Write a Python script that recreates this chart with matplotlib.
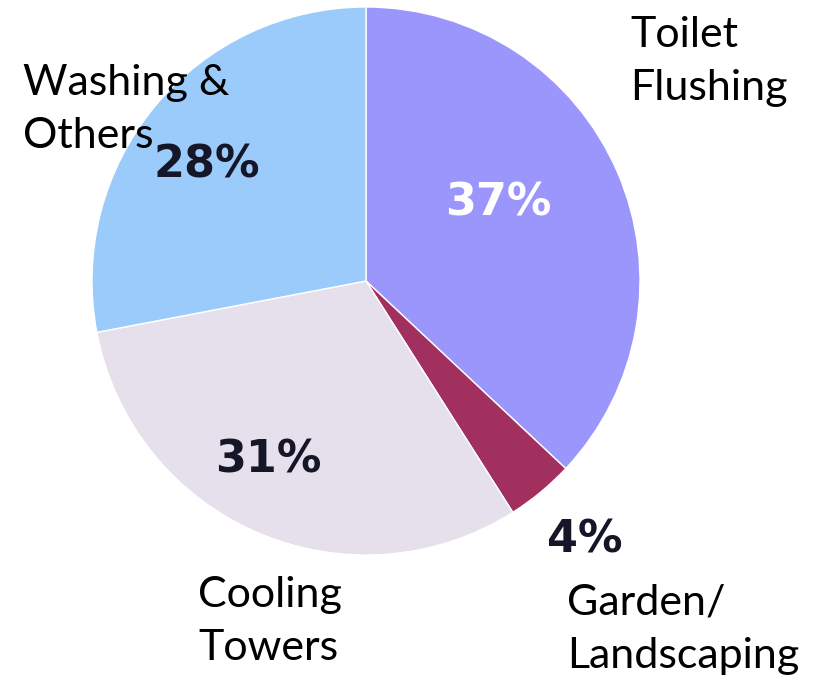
import matplotlib
matplotlib.use("Agg")
import matplotlib.pyplot as plt

# Water use breakdown (clockwise from 12 o'clock)
categories = ["Toilet\nFlushing", "Garden/\nLandscaping", "Cooling\nTowers", "Washing &\nOthers"]
shares = [37, 4, 31, 28]
pct_labels = ["37%", "4%", "31%", "28%"]
colors = ["#9b96fc", "#a2305f", "#e5e0ec", "#9bcbfb"]
pct_colors = ["white", "#161629", "#161629", "#161629"]

W, H = 821, 685
# layout in pixel coords (x left, baseline y of last line, from top)
cat_pos = [(630, 100), (567, 668), (198, 660), (23, 148)]
pct_pos = [(498, 203), (585, 540), (268, 460), (207, 165)]

fig = plt.figure(figsize=(W / 100, H / 100), dpi=100)
ax = fig.add_axes([0, 0, 1, 1])

ax.pie(shares, colors=colors, startangle=90, counterclock=False,
       center=(366, H - 281), radius=274,
       wedgeprops=dict(edgecolor="white", linewidth=1))

for (x, y), lab in zip(cat_pos, categories):
    ax.text(x, H - y, lab, ha="left", va="baseline", fontsize=31,
            family="Lato", linespacing=1.5, color="black")

for (x, y), lab, c in zip(pct_pos, pct_labels, pct_colors):
    ax.text(x, H - y, lab, ha="center", va="center", fontsize=32,
            family="DejaVu Sans", fontweight="bold", color=c)

ax.set_xlim(0, W)
ax.set_ylim(0, H)
ax.set_aspect("equal")
ax.axis("off")

fig.savefig("out.png", dpi=100)
